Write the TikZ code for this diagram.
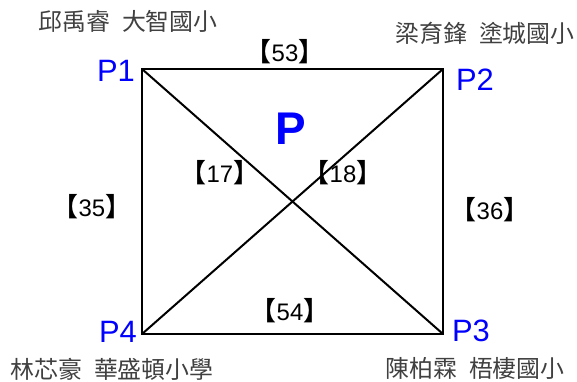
\documentclass[tikz,border=0pt]{standalone}
\usepackage{fontspec}
\setmainfont{Liberation Sans}
\newfontfamily\cjk{Noto Sans CJK TC}
\newfontfamily\cjkb{Noto Sans CJK TC Bold}
\usetikzlibrary{positioning}
\tikzset{
  cornerpt/.style = { inner sep=0pt, minimum size=0pt },
  plab/.style     = { text=blue, font=\fontsize{31}{34}\selectfont, inner sep=0pt },
  school/.style   = { text=black!75, font=\cjk\fontsize{24}{28}\selectfont, inner sep=0pt },
  len/.style      = { font=\fontsize{24}{28}\selectfont, inner sep=0pt },
  sqline/.style   = { draw, line width=2bp }
}
\newcommand{\bk}[1]{{\cjkb\fontsize{26}{28}\selectfont 【}#1{\cjkb\fontsize{26}{28}\selectfont 】}}
\begin{document}
\begin{tikzpicture}[x=1bp,y=-1bp]
    \useasboundingbox (0,0) rectangle (577,381);
    \node[cornerpt] (p1) at (142,69) {};
    \node[cornerpt] (p2) at (443,69) {};
    \node[cornerpt] (p3) at (443,334) {};
    \node[cornerpt] (p4) at (142,334) {};
    % square and diagonals
    \path[sqline] (p1.center) -- (p2.center) -- (p3.center) -- (p4.center) -- cycle;
    \path[sqline] (p1.center) -- (p3.center);
    \path[sqline] (p2.center) -- (p4.center);
    % corner names
    \node[plab] (l1) at (116,71) {P1};
    \node[plab] (l2) at (475,80) {P2};
    \node[plab] (l3) at (471,331) {P3};
    \node[plab] (l4) at (118,332) {P4};
    \node[text=blue, font=\bfseries\fontsize{46}{50}\selectfont, inner sep=0pt] (pp) at (291,129) {P};
    % schools
    \node[school] (n1) at (128,21) {邱禹睿\hspace{0.5em}大智國小};
    \node[school] (n2) at (485,33) {梁育鋒\hspace{0.5em}塗城國小};
    \node[school] (n3) at (475,368) {陳柏霖\hspace{0.5em}梧棲國小};
    \node[school] (n4) at (112,369) {林芯豪\hspace{0.5em}華盛頓小學};
    % lengths
    \node[len] (e12) at (285,52) {\bk{53}};
    \node[len] (e23) at (490,210) {\bk{36}};
    \node[len] (e34) at (290,311) {\bk{54}};
    \node[len] (e41) at (92,207) {\bk{35}};
    \node[len] (e13) at (220,173) {\bk{17}};
    \node[len] (e24) at (343,173) {\bk{18}};
\end{tikzpicture}
\end{document}
